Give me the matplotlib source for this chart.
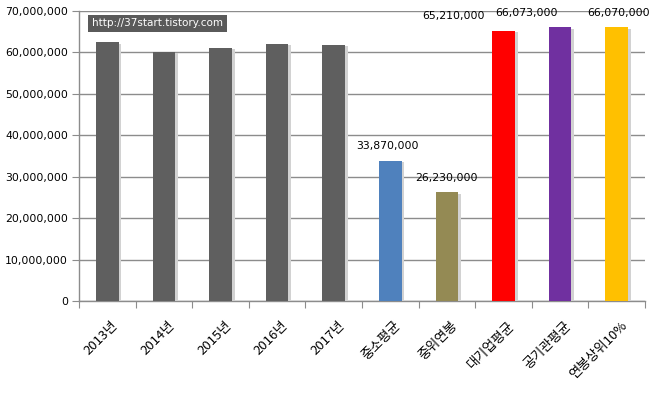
import matplotlib
matplotlib.use("Agg")
import matplotlib.pyplot as plt
import matplotlib.patheffects as pe
import matplotlib.transforms as mtransforms
from matplotlib.ticker import FuncFormatter, MultipleLocator

categories = ["2013년", "2014년", "2015년", "2016년", "2017년",
              "중소평균", "중위연봉", "대기업평균", "공기관평균", "연봉상위10%"]
values = [62400000, 60200000, 61100000, 62100000, 61800000,
          33870000, 26230000, 65210000, 66073000, 66070000]
colors = ["#5f5f5f"] * 5 + ["#4f81bd", "#948a54", "#ff0000", "#7030a0", "#ffc000"]
label_texts = ["", "", "", "", "",
               "33,870,000", "26,230,000", "65,210,000", "66,073,000", "66,070,000"]
label_dx = [0, 0, 0, 0, 0, -2, 0, -36, -24, 1]

plt.rcParams['font.family'] = ['Noto Sans CJK KR', 'DejaVu Sans']

W, H = 652, 395
fig = plt.figure(figsize=(W / 100, H / 100), dpi=100)
ax = fig.add_axes([79 / W, 1 - 301 / H, (645 - 79) / W, (301 - 11) / H])

x = list(range(len(categories)))
bars = ax.bar(x, values, width=0.4, color=colors, zorder=3)
for b in bars:
    b.set_path_effects([pe.SimplePatchShadow(offset=(2, -1), shadow_rgbFace="#d2d2d2", alpha=1.0),
                        pe.Normal()])

ax.set_xlim(-0.5, len(categories) - 0.5)
ax.set_ylim(0, 70000000)
ax.yaxis.set_major_locator(MultipleLocator(10000000))
ax.yaxis.set_major_formatter(FuncFormatter(lambda v, p: f"{int(v):,}"))
ax.grid(axis="y", color="#8c8c8c", linewidth=1.0, zorder=0)
ax.set_axisbelow(True)

for s in ["top", "right"]:
    ax.spines[s].set_visible(False)
for s in ["left", "bottom"]:
    ax.spines[s].set_color("#8c8c8c")
    ax.spines[s].set_linewidth(1.0)

ax.set_xticks([i + 0.5 for i in range(-1, len(categories))], minor=False)
ax.set_xticklabels([])
ax.tick_params(axis="x", which="major", length=5, color="#8c8c8c", direction="out")
ax.set_xticks(x, minor=True)
ax.set_xticklabels(categories, minor=True, rotation=45, ha="right", va="top",
                   rotation_mode="anchor", fontsize=9.5)
ax.tick_params(axis="x", which="minor", length=0, pad=13)
shift = mtransforms.ScaledTranslation(4 / 100, 0, fig.dpi_scale_trans)
for t in ax.get_xticklabels(minor=True):
    t.set_transform(t.get_transform() + shift)
ax.tick_params(axis="y", length=5, color="#8c8c8c", pad=3)
for t in ax.get_yticklabels():
    t.set_family(['DejaVu Sans'])
    t.set_fontsize(7.8)

for i, (v, t) in enumerate(zip(values, label_texts)):
    if t:
        ax.annotate(t, (i, v), xytext=(label_dx[i], 10.5), textcoords="offset points",
                    ha="center", va="center", fontsize=7.8, family=['DejaVu Sans'],
                    annotation_clip=False)

fig.text(92 / W, 1 - 23.5 / H, "http://37start.tistory.com", color="white",
         fontsize=7.5, family=['DejaVu Sans'], va="center", ha="left",
         bbox=dict(boxstyle="square,pad=0.35", facecolor="#5a5a5a", edgecolor="none"))

fig.savefig("out.png", dpi=100)
